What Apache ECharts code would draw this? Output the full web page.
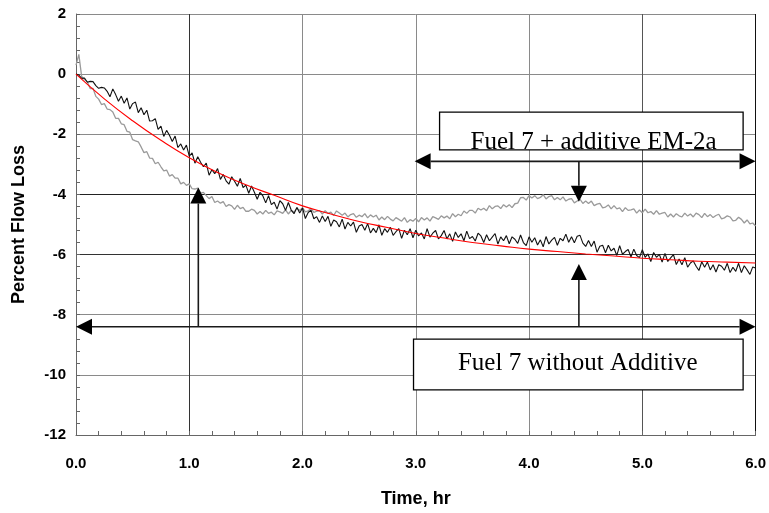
<!DOCTYPE html>
<html><head><meta charset="utf-8">
<script src="https://cdn.jsdelivr.net/npm/echarts@6/dist/echarts.min.js"></script>
<style>html,body{margin:0;padding:0;background:#fff}#chart{width:769px;height:513px}</style>
</head><body><div id="chart"></div>
<script>
// sampling step of the two measured traces (hours)
const timeStepHr = 0.025;

// Fuel 7 without additive (black trace), percent flow loss
const withoutAdditive = [
  0.00, -0.03, -0.14, -0.13, -0.27, -0.24, -0.25, -0.38, -0.47, -0.44,
  -0.46, -0.57, -0.75, -0.49, -0.68, -0.90, -0.73, -0.97, -0.79, -1.16,
  -0.98, -0.93, -1.28, -1.12, -1.35, -1.20, -1.56, -1.55, -1.48, -1.84,
  -1.73, -2.07, -1.87, -2.03, -2.24, -2.06, -2.44, -2.32, -2.52, -2.36,
  -2.73, -2.62, -2.96, -2.75, -2.93, -3.08, -2.96, -3.36, -3.18, -3.31,
  -3.14, -3.50, -3.34, -3.55, -3.66, -3.41, -3.56, -3.73, -3.47, -3.77,
  -3.69, -3.96, -3.72, -3.93, -4.16, -3.93, -4.05, -4.28, -4.04, -4.34,
  -4.26, -4.49, -4.21, -4.31, -4.53, -4.27, -4.52, -4.64, -4.43, -4.62,
  -4.45, -4.80, -4.60, -4.52, -4.81, -4.74, -4.93, -4.72, -4.90, -4.73,
  -5.06, -4.85, -4.91, -5.08, -4.82, -5.15, -4.93, -5.05, -4.92, -5.26,
  -5.05, -5.00, -5.19, -4.97, -5.28, -5.13, -5.27, -5.01, -5.36, -5.14,
  -5.26, -5.09, -5.36, -5.24, -5.14, -5.46, -5.19, -5.34, -5.14, -5.44,
  -5.19, -5.38, -5.28, -5.48, -5.14, -5.42, -5.29, -5.20, -5.48, -5.37,
  -5.20, -5.48, -5.31, -5.56, -5.25, -5.43, -5.31, -5.54, -5.22, -5.47,
  -5.40, -5.55, -5.29, -5.38, -5.60, -5.34, -5.54, -5.42, -5.30, -5.65,
  -5.41, -5.54, -5.37, -5.64, -5.41, -5.49, -5.63, -5.35, -5.60, -5.70,
  -5.41, -5.59, -5.44, -5.68, -5.51, -5.74, -5.40, -5.65, -5.52, -5.43,
  -5.69, -5.46, -5.54, -5.32, -5.59, -5.41, -5.61, -5.39, -5.36, -5.62,
  -5.73, -5.53, -5.73, -5.55, -5.92, -5.72, -5.69, -5.94, -5.69, -5.88,
  -5.79, -6.03, -5.70, -5.99, -5.90, -5.83, -6.08, -5.82, -6.03, -6.10,
  -5.84, -6.09, -5.98, -6.23, -5.93, -6.09, -5.99, -6.25, -5.96, -6.23,
  -6.11, -6.00, -6.33, -6.15, -6.34, -6.10, -6.42, -6.28, -6.21, -6.39,
  -6.53, -6.24, -6.42, -6.25, -6.51, -6.34, -6.58, -6.34, -6.39, -6.52,
  -6.29, -6.60, -6.42, -6.56, -6.29, -6.60, -6.37, -6.51, -6.66, -6.41,
  -6.45
];

// Fuel 7 + additive EM-2a (grey trace)
const withAdditive = [
  0.30, 0.66, -0.08, -0.18, -0.25, -0.48, -0.47, -0.74, -0.83, -1.01,
  -0.98, -1.16, -1.18, -1.26, -1.47, -1.47, -1.65, -1.68, -1.90, -1.93,
  -2.18, -2.22, -2.25, -2.42, -2.61, -2.58, -2.79, -2.80, -2.98, -2.93,
  -3.08, -3.22, -3.19, -3.39, -3.34, -3.46, -3.46, -3.65, -3.60, -3.70,
  -3.65, -3.81, -3.82, -3.79, -3.96, -3.93, -4.04, -4.14, -4.07, -4.27,
  -4.22, -4.29, -4.24, -4.40, -4.34, -4.38, -4.50, -4.36, -4.47, -4.43,
  -4.56, -4.56, -4.49, -4.53, -4.65, -4.57, -4.65, -4.53, -4.63, -4.59,
  -4.68, -4.55, -4.58, -4.63, -4.51, -4.65, -4.53, -4.59, -4.47, -4.53,
  -4.44, -4.58, -4.55, -4.46, -4.60, -4.56, -4.54, -4.65, -4.54, -4.63,
  -4.59, -4.70, -4.55, -4.62, -4.69, -4.62, -4.75, -4.67, -4.64, -4.76,
  -4.69, -4.74, -4.64, -4.78, -4.68, -4.75, -4.69, -4.85, -4.75, -4.84,
  -4.73, -4.82, -4.88, -4.77, -4.83, -4.89, -4.77, -4.93, -4.84, -4.89,
  -4.80, -4.91, -4.77, -4.85, -4.78, -4.89, -4.74, -4.78, -4.83, -4.71,
  -4.78, -4.72, -4.81, -4.64, -4.74, -4.66, -4.71, -4.55, -4.63, -4.53,
  -4.53, -4.62, -4.46, -4.52, -4.46, -4.54, -4.37, -4.48, -4.40, -4.38,
  -4.47, -4.34, -4.42, -4.34, -4.44, -4.31, -4.29, -4.11, -4.10, -4.19,
  -4.04, -4.12, -4.04, -4.14, -4.10, -4.01, -4.15, -4.07, -4.04, -4.18,
  -4.10, -4.18, -4.08, -4.22, -4.16, -4.14, -4.28, -4.22, -4.16, -4.30,
  -4.22, -4.30, -4.22, -4.37, -4.32, -4.30, -4.45, -4.42, -4.35, -4.48,
  -4.37, -4.48, -4.45, -4.57, -4.44, -4.53, -4.51, -4.48, -4.62, -4.52,
  -4.61, -4.49, -4.61, -4.57, -4.66, -4.54, -4.66, -4.62, -4.60, -4.75,
  -4.65, -4.75, -4.64, -4.71, -4.75, -4.62, -4.72, -4.65, -4.75, -4.62,
  -4.67, -4.77, -4.63, -4.74, -4.67, -4.77, -4.70, -4.66, -4.81, -4.78,
  -4.71, -4.75, -4.88, -4.86, -4.76, -4.83, -4.95, -4.85, -4.98, -4.95,
  -5.05
];

// fitted curve (red)
const fitTimes  = [0, 0.25, 0.5, 0.75, 1.0, 1.25, 1.5, 1.75, 2.0, 2.25, 2.5, 2.75, 3.0,
                   3.25, 3.5, 3.75, 4.0, 4.25, 4.5, 4.75, 5.0, 5.25, 5.5, 5.75, 6.0];
const fitValues = [0, -0.82, -1.55, -2.20, -2.78, -3.27, -3.68, -4.03, -4.38, -4.65, -4.90, -5.10, -5.30,
                   -5.45, -5.60, -5.71, -5.82, -5.90, -5.98, -6.05, -6.12, -6.17, -6.22, -6.25, -6.28];

// annotation arrows: [x1, y1, x2, y2, headAtStart, headAtEnd] in data units
const arrowSegments = [
  [0, -8.4, 6, -8.4, 1, 1],
  [1.08, -8.4, 1.08, -3.77, 0, 1],
  [4.44, -8.4, 4.44, -6.31, 0, 1],
  [2.99, -2.9, 6, -2.9, 1, 1],
  [4.44, -2.9, 4.44, -4.24, 0, 1]
];
// label boxes: [x1, yTop, x2, yBottom, textX, textY] in data units
const textBoxes = [
  [3.21, -1.26, 5.89, -2.52, 4.57, -2.28],
  [2.98, -8.81, 5.89, -10.5, 4.43, -9.62]
];
const boxLabels = ['Fuel 7 + additive EM-2a', 'Fuel 7 without Additive'];

const toPairs = vals => vals.map((v, i) => [+(i * timeStepHr).toFixed(3), v]);
const fitPairs = fitTimes.map((t, i) => [t, fitValues[i]]);

const chart = echarts.init(document.getElementById('chart'), null, {renderer: 'canvas'});

function renderArrow(params, api) {
  const p1 = api.coord([api.value(0), api.value(1)]);
  const p2 = api.coord([api.value(2), api.value(3)]);
  const hs = api.value(4), he = api.value(5);
  const L = 16, W = 8;
  const dx = p2[0] - p1[0], dy = p2[1] - p1[1];
  const len = Math.hypot(dx, dy);
  const ux = dx / len, uy = dy / len, nx = -uy, ny = ux;
  const a = hs ? [p1[0] + ux * L, p1[1] + uy * L] : p1;
  const b = he ? [p2[0] - ux * L, p2[1] - uy * L] : p2;
  const children = [{
    type: 'line', shape: {x1: a[0], y1: a[1], x2: b[0], y2: b[1]},
    style: {stroke: '#1a1a1a', lineWidth: 1.6}
  }];
  if (hs) children.push({type: 'polygon', shape: {points: [p1, [a[0] + nx * W, a[1] + ny * W], [a[0] - nx * W, a[1] - ny * W]]}, style: {fill: '#000'}});
  if (he) children.push({type: 'polygon', shape: {points: [p2, [b[0] + nx * W, b[1] + ny * W], [b[0] - nx * W, b[1] - ny * W]]}, style: {fill: '#000'}});
  return {type: 'group', children};
}

function renderBox(params, api) {
  const p1 = api.coord([api.value(0), api.value(1)]);
  const p2 = api.coord([api.value(2), api.value(3)]);
  const t = api.coord([api.value(4), api.value(5)]);
  return {type: 'group', children: [
    {type: 'rect', shape: {x: p1[0], y: p1[1], width: p2[0] - p1[0], height: p2[1] - p1[1]},
     style: {fill: '#fff', stroke: '#000', lineWidth: 1.3}},
    {type: 'text', style: {text: boxLabels[params.dataIndex], x: t[0], y: t[1], align: 'center', verticalAlign: 'middle',
      font: '25px "Liberation Serif", "Times New Roman", serif', fill: '#000'}}
  ]};
}

const labelFont = {fontFamily: '"Liberation Sans", Arial, sans-serif', fontWeight: 'bold', fontSize: 15, color: '#000'};
const titleFont = {fontFamily: '"Liberation Sans", Arial, sans-serif', fontWeight: 'bold', fontSize: 18, color: '#000'};

chart.setOption({
  animation: false,
  backgroundColor: '#fff',
  grid: {left: 76, right: 13, top: 14, bottom: 76},
  xAxis: {
    type: 'value', min: 0, max: 6, interval: 1,
    name: 'Time, hr', nameLocation: 'middle', nameGap: 55,
    nameTextStyle: titleFont,
    axisLine: {show: true, onZero: false, lineStyle: {color: '#666', width: 1}},
    axisTick: {show: true, inside: true, length: 4, lineStyle: {color: '#666'}},
    minorTick: {show: true, splitNumber: 5, length: 4, lineStyle: {color: '#666'}},
    axisLabel: Object.assign({margin: 21, formatter: v => v.toFixed(1)}, labelFont),
    splitLine: {show: true, lineStyle: {color: ['#8a8a8a', '#333', '#8a8a8a', '#8a8a8a', '#8a8a8a', '#555', '#111'], width: 1}}
  },
  yAxis: {
    type: 'value', min: -12, max: 2, interval: 2,
    name: 'Percent Flow Loss', nameLocation: 'middle', nameGap: 48,
    nameTextStyle: titleFont,
    axisLine: {show: true, onZero: false, lineStyle: {color: '#666', width: 1}},
    axisTick: {show: true, inside: true, length: 4, lineStyle: {color: '#666'}},
    minorTick: {show: true, splitNumber: 5, length: 4, lineStyle: {color: '#666'}},
    axisLabel: Object.assign({margin: 10}, labelFont),
    splitLine: {show: true, lineStyle: {color: ['#8a8a8a', '#8a8a8a', '#8a8a8a', '#333', '#222', '#8a8a8a', '#8a8a8a', '#8a8a8a'], width: 1}}
  },
  series: [
    {type: 'line', name: 'Fuel 7 + additive EM-2a', data: toPairs(withAdditive), showSymbol: false,
     lineStyle: {color: '#9a9a9a', width: 1.3}, z: 3},
    {type: 'line', name: 'Fuel 7 without Additive', data: toPairs(withoutAdditive), showSymbol: false,
     lineStyle: {color: '#111', width: 1.1}, z: 4},
    {type: 'line', name: 'Fit', data: fitPairs, showSymbol: false, smooth: true,
     lineStyle: {color: '#ff0000', width: 1.1}, z: 5},
    {type: 'custom', renderItem: renderArrow, data: arrowSegments, z: 6, clip: false, silent: true},
    {type: 'custom', renderItem: renderBox, data: textBoxes, z: 7, clip: false, silent: true}
  ]
});
</script></body></html>
